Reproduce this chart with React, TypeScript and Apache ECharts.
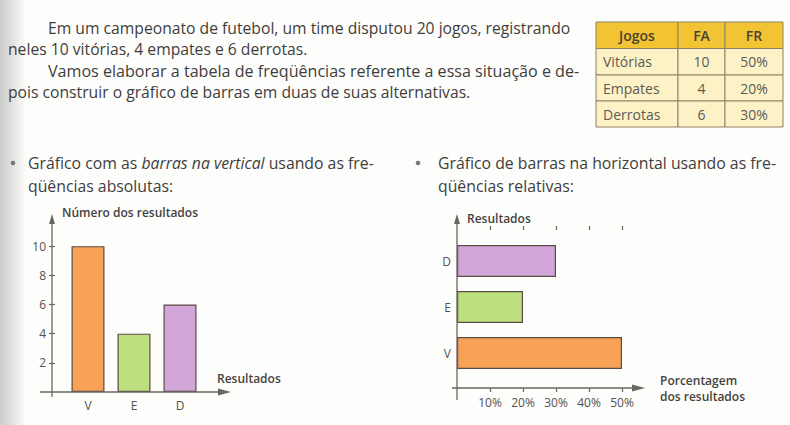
import React, { useEffect, useRef } from 'react';
import * as echarts from 'echarts';

// ---- data ----
const absCategories = ['V', 'E', 'D'];
const absValues = [10, 4, 6];
const absTicks = [2, 4, 6, 8, 10];
const relCategories = ['V', 'E', 'D'];
const relValues = [50, 20, 30];
const relTicks = [10, 20, 30, 40, 50];
const barColors = ['#F8A257', '#BDE07E', '#D3A6DA'];
const tableHeader = ['Jogos', 'FA', 'FR'];
const tableNames = ['Vitórias', 'Empates', 'Derrotas'];
const tableFA = ['10', '4', '6'];
const tableFR = ['50%', '20%', '30%'];
const paragraphLines = [
  'Em um campeonato de futebol, um time disputou 20 jogos, registrando',
  'neles 10 vitórias, 4 empates e 6 derrotas.',
  'Vamos elaborar a tabela de freqüências referente a essa situação e de-',
  'pois construir o gráfico de barras em duas de suas alternativas.',
];

// ---- layout ----
const FONT = '"Open Sans", sans-serif';
const TEXT = '#3f3d3b';
const AXIS = '#6a6662';
const BORDER = '#5b4b45';
const paraX = [48, 8, 48, 8];
const paraY = [28, 49, 71, 92];
const paraSize = [15.7, 15.7, 16.1, 15.7];
const GL = { left: 65, top: 217, width: 138, height: 175 };
const GR = { left: 457, top: 238, width: 165, height: 138 };

export default function App() {
  const ref = useRef<HTMLDivElement>(null);
  useEffect(() => {
    document.body.style.margin = '0';
    const chart = echarts.init(ref.current!, undefined, { renderer: 'svg' });

    const g: any[] = [];
    // left binding shadow
    g.push({
      type: 'rect',
      shape: { x: 0, y: 0, width: 26, height: 425 },
      style: {
        fill: new echarts.graphic.LinearGradient(0, 0, 1, 0, [
          { offset: 0, color: 'rgba(140,140,140,0.45)' },
          { offset: 1, color: 'rgba(140,140,140,0)' },
        ]),
      },
      z: 0,
    });
    paragraphLines.forEach((t, i) => {
      g.push({
        type: 'text',
        style: { text: t, x: paraX[i], y: paraY[i], font: `${paraSize[i]}px ${FONT}`, fill: TEXT, textVerticalAlign: 'middle' },
      });
    });
    // bullets
    g.push({ type: 'circle', shape: { cx: 13, cy: 163, r: 2.3 }, style: { fill: '#7a7775' } });
    g.push({ type: 'circle', shape: { cx: 418, cy: 163, r: 2.3 }, style: { fill: '#7a7775' } });
    const BS = 15.8;
    const rich = {
      n: { fontSize: BS, fontFamily: FONT, fill: TEXT },
      i: { fontSize: BS, fontFamily: FONT, fontStyle: 'italic', fill: TEXT },
    };
    g.push({
      type: 'text',
      style: {
        text: '{n|Gráfico com as }{i|barras na vertical}{n| usando as fre-}',
        rich, x: 28, y: 163, fill: TEXT, textVerticalAlign: 'middle',
      },
    });
    g.push({ type: 'text', style: { text: 'qüências absolutas:', x: 28, y: 186, font: `${BS}px ${FONT}`, fill: TEXT, textVerticalAlign: 'middle' } });
    g.push({ type: 'text', style: { text: 'Gráfico de barras na horizontal usando as fre-', x: 438, y: 163, font: `${BS}px ${FONT}`, fill: TEXT, textVerticalAlign: 'middle' } });
    g.push({ type: 'text', style: { text: 'qüências relativas:', x: 438, y: 186, font: `${BS}px ${FONT}`, fill: TEXT, textVerticalAlign: 'middle' } });

    // table
    const colX = [596, 678, 725, 783];
    const rowY = [22, 48.5, 75, 101, 127];
    for (let r = 0; r < 4; r++) {
      for (let c = 0; c < 3; c++) {
        g.push({
          type: 'rect',
          shape: { x: colX[c], y: rowY[r], width: colX[c + 1] - colX[c], height: rowY[r + 1] - rowY[r] },
          style: { fill: r === 0 ? '#F2C433' : '#FCF2C6', stroke: '#8f8268', lineWidth: 1 },
        });
        let txt: string;
        if (r === 0) txt = tableHeader[c];
        else txt = c === 0 ? tableNames[r - 1] : c === 1 ? tableFA[r - 1] : tableFR[r - 1];
        const left = c === 0 && r > 0;
        g.push({
          type: 'text',
          style: {
            text: txt,
            x: left ? colX[0] + 7 : (colX[c] + colX[c + 1]) / 2,
            y: (rowY[r] + rowY[r + 1]) / 2,
            font: `${r === 0 ? '600 ' : ''}14px ${FONT}`,
            fill: r === 0 ? '#4a4232' : '#5c5a57',
            textAlign: left ? 'left' : 'center',
            textVerticalAlign: 'middle',
          },
        });
      }
    }

    // axis lines with arrows
    const line = (x1: number, y1: number, x2: number, y2: number) => ({
      type: 'line', z: 20, shape: { x1, y1, x2, y2 }, style: { stroke: AXIS, lineWidth: 1.3 },
    });
    const poly = (pts: number[][]) => ({ type: 'polygon', z: 20, shape: { points: pts }, style: { fill: AXIS } });
    g.push(line(52, 397, 52, 222), poly([[52, 214], [49, 224], [55, 224]]));
    g.push(line(40, 392, 222, 392), poly([[231, 392], [218, 388.5], [218, 395.5]]));
    g.push(line(457, 400, 457, 222), poly([[457, 214], [454, 224], [460, 224]]));
    g.push(line(452, 388, 636, 388), poly([[645, 388], [632, 384.5], [632, 391.5]]));

    // axis titles
    const title = (t: string, x: number, y: number) => ({
      type: 'text',
      style: { text: t, x, y, font: `600 12px ${FONT}`, fill: '#45423f', textVerticalAlign: 'middle' },
    });
    g.push(title('Número dos resultados', 62, 212));
    g.push(title('Resultados', 217, 378));
    g.push(title('Resultados', 467, 218));
    g.push(title('Porcentagem', 660, 380));
    g.push(title('dos resultados', 660, 396));

    const tickStyle = { color: AXIS, width: 1.2 };
    const labelStyle = { color: '#55524f', fontSize: 12, fontFamily: FONT };

    chart.setOption({
      animation: false,
      backgroundColor: '#fdfdfb',
      grid: [
        { ...GL, containLabel: false },
        { ...GR, containLabel: false },
      ],
      xAxis: [
        {
          type: 'category', gridIndex: 0, data: absCategories,
          axisLine: { show: false }, axisTick: { show: false },
          axisLabel: { ...labelStyle, margin: 7 },
        },
        {
          type: 'value', gridIndex: 1, min: 0, max: 50, interval: 10, offset: 12,
          axisLine: { show: false }, splitLine: { show: false },
          axisTick: { show: true, length: 4, lineStyle: tickStyle, customValues: relTicks },
          axisLabel: { ...labelStyle, margin: 8, formatter: '{value}%', customValues: relTicks },
        },
        {
          type: 'value', gridIndex: 1, min: 0, max: 50, interval: 10, offset: 12,
          axisLine: { show: false }, splitLine: { show: false },
          axisTick: { show: true, inside: true, length: 4, lineStyle: tickStyle, customValues: relTicks },
          axisLabel: { show: false },
        },
      ],
      yAxis: [
        {
          type: 'value', gridIndex: 0, min: 0, max: 12, interval: 2, offset: 13, position: 'left',
          axisLine: { show: false }, splitLine: { show: false },
          axisTick: { show: true, length: 3, lineStyle: tickStyle, customValues: absTicks },
          axisLabel: { ...labelStyle, margin: 6, customValues: absTicks },
        },
        {
          type: 'value', gridIndex: 0, min: 0, max: 12, interval: 2, offset: 13, position: 'left',
          axisLine: { show: false }, splitLine: { show: false },
          axisTick: { show: true, inside: true, length: 3, lineStyle: tickStyle, customValues: absTicks },
          axisLabel: { show: false },
        },
        {
          type: 'category', gridIndex: 1, data: relCategories,
          axisLine: { show: false }, axisTick: { show: false },
          axisLabel: { ...labelStyle, margin: 6 },
        },
      ],
      series: [
        {
          type: 'bar', xAxisIndex: 0, yAxisIndex: 0, barWidth: 33,
          data: absValues.map((v, i) => ({ value: v, itemStyle: { color: barColors[i] } })),
          itemStyle: { borderColor: BORDER, borderWidth: 1.2 },
        },
        {
          type: 'bar', xAxisIndex: 1, yAxisIndex: 2, barWidth: 32,
          data: relValues.map((v, i) => ({ value: v, itemStyle: { color: barColors[i] } })),
          itemStyle: { borderColor: BORDER, borderWidth: 1.2 },
        },
      ],
      graphic: g,
    });
    return () => chart.dispose();
  }, []);
  return <div ref={ref} style={{ width: 790, height: 425 }} />;
}
